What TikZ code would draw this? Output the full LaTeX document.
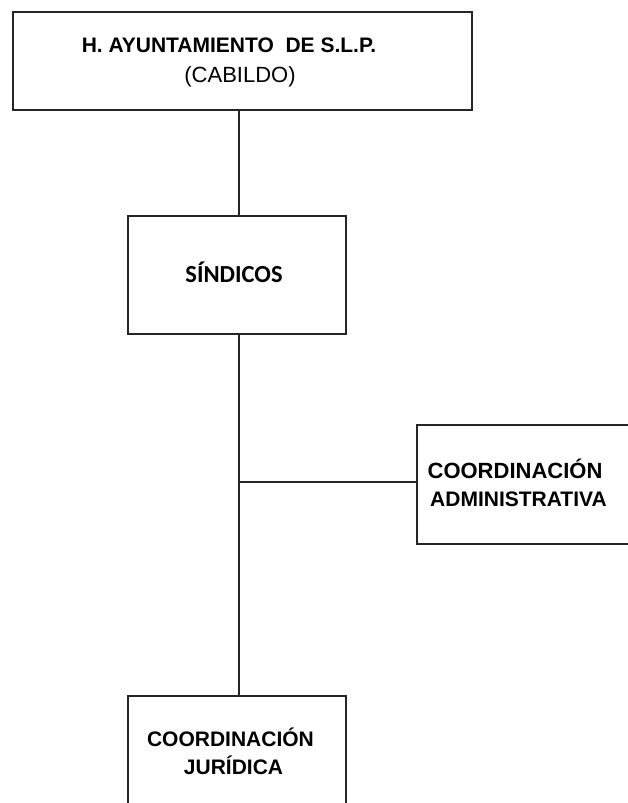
\documentclass[tikz,border=0pt]{standalone}
\usepackage{fontspec}
\setmainfont{Liberation Sans}
\newfontfamily\calib{Carlito}
\tikzset{
  orgbox/.style={draw=black!85, line width=1.6pt, rectangle, inner sep=0pt},
  conn/.style={draw=black!85, line width=1.6pt},
  lbl/.style={anchor=base, inner sep=0pt, text=black},
  arialb/.style={font=\fontsize{21}{25}\selectfont\bfseries},
  arialbl/.style={font=\fontsize{22}{26}\selectfont\bfseries},
  arialr/.style={font=\fontsize{22}{26}\selectfont},
}
\begin{document}
\begin{tikzpicture}[x=1pt,y=-1pt]
\clip (0,0) rectangle (628,803);
\fill[white] (0,0) rectangle (628,803);
% boxes
\node[orgbox, minimum width=459pt, minimum height=98pt] (top) at (242.5,61) {};
\node[orgbox, minimum width=218pt, minimum height=118pt] (sind) at (237,275) {};
\node[orgbox, minimum width=223pt, minimum height=119pt] (admin) at (528.5,484.5) {};
\node[orgbox, minimum width=218pt, minimum height=119pt] (jur) at (237,755.5) {};
% labels
\node[lbl, arialb] (t1) at (229,52) {H. AYUNTAMIENTO\ \ DE S.L.P.};
\node[lbl, arialr] (t2) at (240,82) {(CABILDO)};
\node[lbl, font=\calib\fontsize{24.5}{28}\selectfont\bfseries] (s1) at (234,282) {SÍNDICOS};
\node[lbl, arialbl] (a1) at (515,478) {COORDINACIÓN};
\node[lbl, arialb] (a2) at (518.5,506) {ADMINISTRATIVA};
\node[lbl, arialb] (j1) at (230.5,746) {COORDINACIÓN};
\node[lbl, arialb] (j2) at (233.5,774) {JURÍDICA};
% connectors
\coordinate (sx) at (239,0);
\coordinate (junc) at (239,482);
\draw[conn] (sx |- top.south) -- (sx |- sind.north);
\draw[conn] (sx |- sind.south) -- (sx |- jur.north);
\draw[conn] (junc) -- (junc -| admin.west);
\end{tikzpicture}
\end{document}
